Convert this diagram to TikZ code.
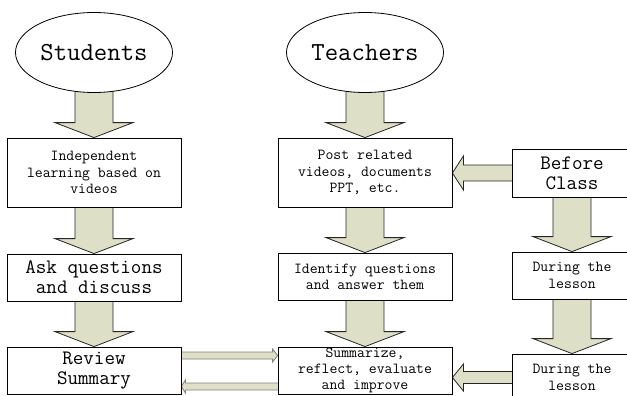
\documentclass[tikz,border=0pt]{standalone}
\usepackage{fontspec}
\usetikzlibrary{positioning,calc,shapes.geometric,backgrounds}
\definecolor{arrowfill}{RGB}{221,223,199}

\newcommand{\blockdown}[2]{%
  \draw[bigarrow] ($(#1.south)+(-19,2)$) -- ($(#2.north)+(-19,15)$)
    -- ($(#2.north)+(-39,15)$) -- (#2.north) -- ($(#2.north)+(39,15)$)
    -- ($(#2.north)+(19,15)$) -- ($(#1.south)+(19,2)$) -- cycle;}
\newcommand{\blockleft}[7]{%
  \coordinate (s) at ($(#2.west)+(2,#4)$);
  \coordinate (t) at ($(#3.east |- #2.west)+(0,#4)$);
  \draw[#1] ($(s)+(0,#5)$) -- ($(t)+(#7,#5)$) -- ($(t)+(#7,#6)$) -- (t)
    -- ($(t)+(#7,-#6)$) -- ($(t)+(#7,-#5)$) -- ($(s)+(0,-#5)$) -- cycle;}
\newcommand{\blockright}[7]{%
  \coordinate (s) at ($(#2.east)+(-2,#4)$);
  \coordinate (t) at ($(#3.west |- #2.east)+(0,#4)$);
  \draw[#1] ($(s)+(0,#5)$) -- ($(t)+(-#7,#5)$) -- ($(t)+(-#7,#6)$) -- (t)
    -- ($(t)+(-#7,-#6)$) -- ($(t)+(-#7,-#5)$) -- ($(s)+(0,-#5)$) -- cycle;}

\begin{document}
\begin{tikzpicture}[x=1pt,y=1pt,
	talk/.style={ellipse,draw,fill=white,line width=0.8pt,minimum width=157pt,
		minimum height=80pt,inner sep=0pt,font=\ttfamily\fontsize{26}{30}\selectfont},
	box/.style={draw,fill=white,line width=0.8pt,inner sep=0pt,align=center,
		minimum width=174pt},
	smalltext/.style={font=\ttfamily\fontsize{15.3}{16.3}\selectfont},
	largetext/.style={font=\ttfamily\fontsize{20.5}{20}\selectfont},
	bigarrow/.style={draw=black!85,fill=arrowfill,line width=0.8pt},
	thinarrow/.style={draw=black!50,fill=arrowfill,line width=0.8pt}]
	\useasboundingbox (0,0) rectangle (627,-396);
	\clip (0,0) rectangle (627,-396);

	\node[talk] (students) at (94,-52.5) {Students};
	\node[talk] (teachers) at (365,-52.5) {Teachers};

	\node[box,smalltext,minimum height=69pt] 
		  (learn) at (94,-172.5) {Independent\\learning based on\\videos};
	\node[box,largetext,minimum height=47pt] 
		  (ask) at (94,-277.5) {Ask questions\\and discuss};
	\node[box,largetext,minimum height=47pt] 
		  (review) at (94,-370.5) {Review\\Summary};

	\node[box,smalltext,minimum height=69pt] 
		  (post) at (365,-172.5) {Post related\\videos, documents\\PPT, etc.};
	\node[box,smalltext,minimum height=47pt] 
		  (answer) at (365,-276.5) {Identify questions\\and answer them};
	\node[box,smalltext,minimum height=47pt] 
		  (summarize) at (365,-370.5) {Summarize,\\reflect, evaluate\\and improve};

	\node[box,largetext,minimum width=120pt,minimum height=48pt] 
		  (before) at (572,-173) {Before\\Class};
	\node[box,smalltext,minimum width=120pt,minimum height=47pt] 
		  (during) at (572,-275.5) {During the\\lesson};
	\node[box,smalltext,minimum width=120pt,minimum height=47pt] 
		  (during2) at (572,-377.5) {During the\\lesson};

	\begin{scope}[on background layer]
	\blockdown{students}{learn}
	\blockdown{learn}{ask}
	\blockdown{ask}{review}
	\blockdown{teachers}{post}
	\blockdown{post}{answer}
	\blockdown{answer}{summarize}
	\blockdown{before}{during}
	\blockdown{during}{during2}
	\blockleft{bigarrow}{before}{post}{0}{8}{17}{11}
	\blockleft{bigarrow}{during2}{summarize}{0}{6}{13.5}{11}
	\blockright{thinarrow}{review}{summarize}{15}{3.5}{6.5}{5}
	\blockleft{thinarrow}{summarize}{review}{-16}{3.5}{6.5}{4}
	\end{scope}
\end{tikzpicture}
\end{document}
